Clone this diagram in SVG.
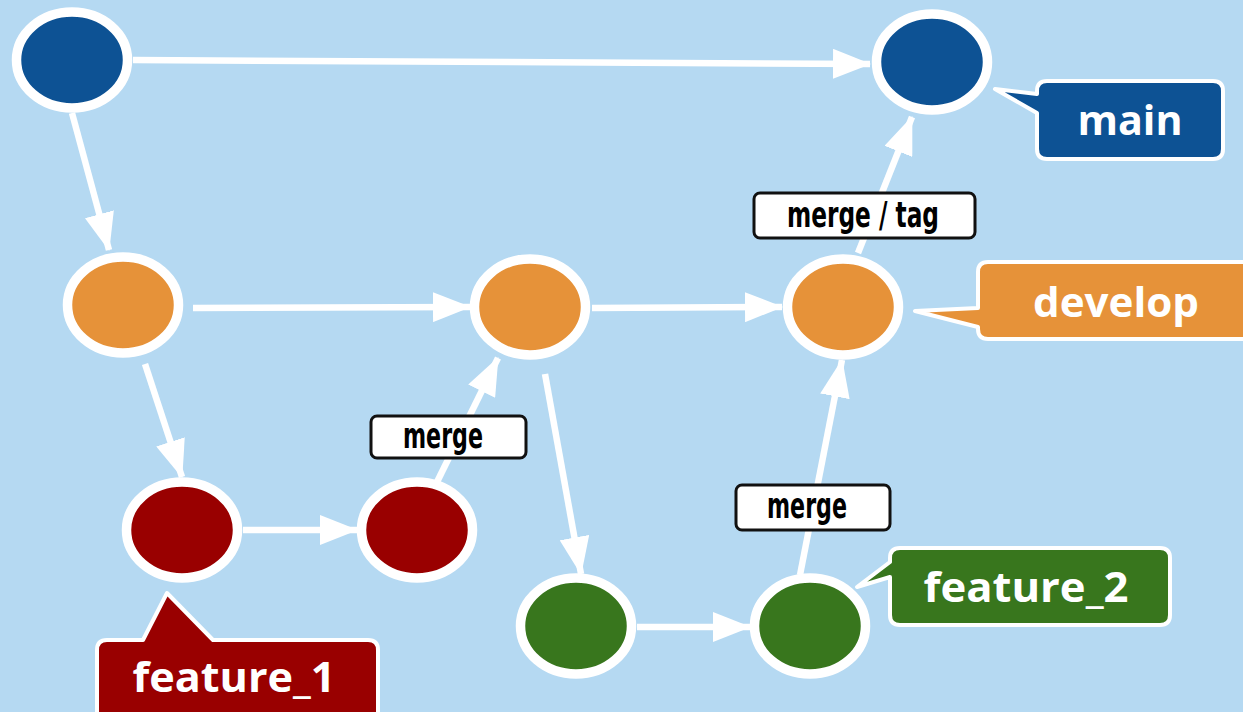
<svg xmlns="http://www.w3.org/2000/svg" width="1243" height="712" viewBox="0 0 1243 712">
  <style>
    .bg { fill: #b5d9f2; }
    .commit { stroke: #ffffff; stroke-width: 9.5; }
    .main { fill: #0d5294; }
    .develop { fill: #e69239; }
    .feat1 { fill: #990000; }
    .feat2 { fill: #38761d; }
    .edge { stroke: #ffffff; stroke-width: 6.5; fill: none; marker-end: url(#arrow); }
    .tagbox { fill: #ffffff; stroke: #111111; stroke-width: 3; }
    .tagtext { font-family: "DejaVu Sans Condensed", "DejaVu Sans", sans-serif; font-weight: bold; font-size: 36px; fill: #000000; text-anchor: middle; }
    .callout { stroke: #ffffff; stroke-width: 4; stroke-linejoin: round; }
    .callouttext { font-family: "Open Sans", "Noto Sans", sans-serif; font-weight: bold; font-size: 42px; fill: #ffffff; text-anchor: middle; }
  </style>
  <defs>
    <marker id="arrow" markerUnits="userSpaceOnUse" markerWidth="38" markerHeight="30" viewBox="0 0 38 30" refX="37" refY="15" orient="auto">
      <path d="M0,0 L38,15 L0,30 Z" fill="#ffffff"/>
    </marker>
  </defs>

  <rect class="bg" x="0" y="0" width="1243" height="712"/>

  <!-- connectors between commits -->
  <g id="connectors">
    <line class="edge" x1="133" y1="60" x2="870" y2="64"/>
    <line class="edge" x1="72" y1="113" x2="109" y2="250"/>
    <line class="edge" x1="193" y1="308" x2="470" y2="307"/>
    <line class="edge" x1="592" y1="308" x2="782" y2="307"/>
    <line class="edge" x1="858" y1="253" x2="912" y2="117"/>
    <line class="edge" x1="145" y1="364" x2="182" y2="477"/>
    <line class="edge" x1="243" y1="530" x2="357" y2="530"/>
    <line class="edge" x1="437" y1="482" x2="498" y2="358"/>
    <line class="edge" x1="545" y1="374" x2="581" y2="574"/>
    <line class="edge" x1="637" y1="627" x2="750" y2="627"/>
    <line class="edge" x1="800" y1="575" x2="842" y2="360"/>
  </g>

  <!-- edge labels -->
  <g id="label-merge-1">
    <rect class="tagbox" x="371" y="416" width="155" height="42" rx="6"/>
    <text class="tagtext" x="443" y="448" textLength="80" lengthAdjust="spacingAndGlyphs">merge</text>
  </g>
  <g id="label-merge-tag">
    <rect class="tagbox" x="754" y="193" width="221" height="45" rx="6"/>
    <text class="tagtext" x="863" y="227" textLength="152" lengthAdjust="spacingAndGlyphs">merge / tag</text>
  </g>
  <g id="label-merge-2">
    <rect class="tagbox" x="736" y="485" width="154" height="45" rx="6"/>
    <text class="tagtext" x="807" y="518" textLength="80" lengthAdjust="spacingAndGlyphs">merge</text>
  </g>

  <!-- commits -->
  <g id="main-1"><ellipse class="commit main" cx="72" cy="60" rx="55.5" ry="48"/></g>
  <g id="main-2"><ellipse class="commit main" cx="932" cy="62" rx="55.5" ry="48"/></g>
  <g id="develop-1"><ellipse class="commit develop" cx="123" cy="305" rx="55.5" ry="48"/></g>
  <g id="develop-2"><ellipse class="commit develop" cx="530" cy="307" rx="55.5" ry="48"/></g>
  <g id="develop-3"><ellipse class="commit develop" cx="843" cy="307" rx="55.5" ry="48"/></g>
  <g id="feature1-1"><ellipse class="commit feat1" cx="182" cy="530" rx="55.5" ry="48"/></g>
  <g id="feature1-2"><ellipse class="commit feat1" cx="417" cy="530" rx="55.5" ry="48"/></g>
  <g id="feature2-1"><ellipse class="commit feat2" cx="576" cy="626" rx="55.5" ry="48"/></g>
  <g id="feature2-2"><ellipse class="commit feat2" cx="810" cy="626" rx="55.5" ry="48"/></g>

  <!-- branch callouts -->
  <g id="callout-main">
    <path class="callout main" d="M1047,81 H1213 Q1223,81 1223,91 V149 Q1223,159 1213,159 H1047 Q1037,159 1037,149 V113 L995,89 L1037,94 V91 Q1037,81 1047,81 Z"/>
    <text class="callouttext" x="1130" y="135" textLength="105" lengthAdjust="spacingAndGlyphs">main</text>
  </g>
  <g id="callout-develop">
    <path class="callout develop" d="M988,262 H1262 V339 H988 Q978,339 978,329 V327 L915,311 L978,308 V272 Q978,262 988,262 Z"/>
    <text class="callouttext" x="1116" y="317" textLength="166" lengthAdjust="spacingAndGlyphs">develop</text>
  </g>
  <g id="callout-feature1">
    <path class="callout feat1" d="M107,640 H143 L167,593 L213,640 H368 Q378,640 378,650 V730 H97 V650 Q97,640 107,640 Z"/>
    <text class="callouttext" x="234" y="692" textLength="203" lengthAdjust="spacingAndGlyphs">feature_1</text>
  </g>
  <g id="callout-feature2">
    <path class="callout feat2" d="M900,548 H1160 Q1170,548 1170,558 V615 Q1170,625 1160,625 H900 Q890,625 890,615 V577 L857,587 L890,562 V558 Q890,548 900,548 Z"/>
    <text class="callouttext" x="1026" y="602" textLength="205" lengthAdjust="spacingAndGlyphs">feature_2</text>
  </g>
</svg>
